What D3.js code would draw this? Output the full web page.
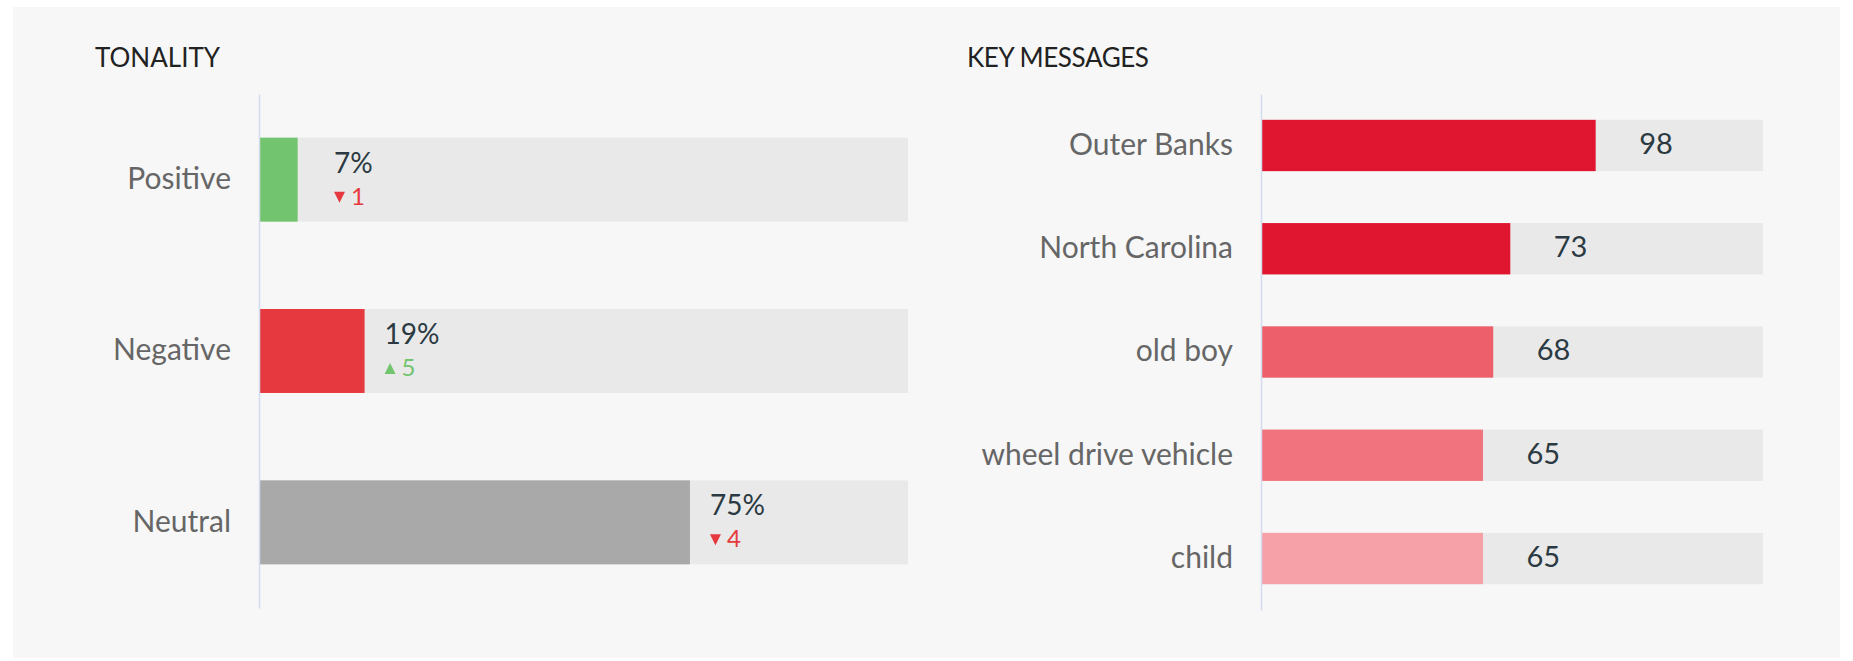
<!DOCTYPE html>
<html><head><meta charset="utf-8">
<script src="https://cdn.jsdelivr.net/npm/d3@7/dist/d3.min.js"></script>
<style>
body{margin:0;background:#fff;}
text{font-family:Lato, "Open Sans", sans-serif;}
</style>
</head><body>
<svg id="chart" width="1853" height="661"></svg>
<script>
// ---- data ----
const tonalityTitle = "TONALITY";
const tonalityCategories = ["Positive", "Negative", "Neutral"];
const tonalityValues = [6.7, 18.3, 74.7];
const tonalityLabels = ["7%", "19%", "75%"];
const tonalityChange = [-1, 5, -4];
const tonalityColors = ["#72c46e", "#e6393f", "#a8a9a8"];

const keyTitle = "KEY MESSAGES";
const keyCategories = ["Outer Banks", "North Carolina", "old boy", "wheel drive vehicle", "child"];
const keyValues = [98, 73, 68, 65, 65];
const keyColors = ["#e01631", "#e01631", "#ec5f6b", "#f1737e", "#f6a0a7"];

// ---- layout ----
const svg = d3.select("#chart");
svg.append("rect").attr("x", 13).attr("y", 7).attr("width", 1827).attr("height", 651).attr("fill", "#f7f7f7");

const plotTop = 94, plotBottom = 610;

function drawAxis(g, y, x0) {
  const ax = g.append("g").attr("transform", `translate(${x0},0)`)
    .call(d3.axisLeft(y).tickSize(0).tickSizeOuter(0).tickPadding(28));
  ax.select(".domain").attr("stroke", "#d3dbee").attr("stroke-width", 1.5);
  ax.selectAll("text").attr("font-size", 30).attr("fill", "#666")
    .attr("font-family", "Lato, sans-serif").attr("dy", "0.31em");
}

// ---- Tonality ----
{
  const g = svg.append("g");
  g.append("text").attr("x", 95).attr("y", 67).attr("font-size", 26).attr("fill", "#222").text(tonalityTitle);
  const x = d3.scaleLinear().domain([0, d3.max(tonalityValues) * 1.506]).range([259, 908]);
  const y = d3.scaleBand().domain(tonalityCategories).range([plotTop, 608]).paddingInner(0.51).paddingOuter(0.255);
  const data = tonalityCategories.map((c, i) => ({c, v: tonalityValues[i], l: tonalityLabels[i], d: tonalityChange[i], col: tonalityColors[i]}));
  g.selectAll(".bg").data(data).join("rect").attr("x", x(0)).attr("y", d => y(d.c))
    .attr("width", x.range()[1] - x(0)).attr("height", y.bandwidth()).attr("fill", "#e9e9e9");
  g.selectAll(".bar").data(data).join("rect").attr("x", x(0)).attr("y", d => y(d.c))
    .attr("width", d => x(d.v) - x(0)).attr("height", y.bandwidth()).attr("fill", d => d.col);
  const lx = d => Math.max(x(d.v), x(0) + 55) + 20;
  const cy = d => y(d.c) + y.bandwidth() / 2;
  g.selectAll(".val").data(data).join("text").attr("x", lx).attr("y", d => cy(d) - 7)
    .attr("font-size", 28).attr("fill", "#2b3a42").text(d => d.l);
  g.selectAll(".tri").data(data).join("path")
    .attr("d", d => {
      const x1 = lx(d), y1 = cy(d) + 12, w = 11, h = 11;
      return d.d < 0 ? `M${x1},${y1}L${x1 + w},${y1}L${x1 + w / 2},${y1 + h}Z`
                     : `M${x1},${y1 + h}L${x1 + w},${y1 + h}L${x1 + w / 2},${y1}Z`;
    })
    .attr("fill", d => d.d < 0 ? "#e6393f" : "#72c46e");
  g.selectAll(".chg").data(data).join("text").attr("x", d => lx(d) + 17).attr("y", d => cy(d) + 25)
    .attr("font-size", 24).attr("fill", d => d.d < 0 ? "#e6393f" : "#72c46e").text(d => Math.abs(d.d));
  drawAxis(g, y, 259);
}

// ---- Key messages ----
{
  const g = svg.append("g");
  g.append("text").attr("x", 967).attr("y", 67).attr("font-size", 26).attr("fill", "#222")
    .attr("letter-spacing", -0.4).text(keyTitle);
  const x = d3.scaleLinear().domain([0, d3.max(keyValues) * 1.5]).range([1261, 1763]);
  const y = d3.scaleBand().domain(keyCategories).range([plotTop, plotBottom]).paddingInner(0.503).paddingOuter(0.25);
  const data = keyCategories.map((c, i) => ({c, v: keyValues[i], col: keyColors[i]}));
  g.selectAll(".bg").data(data).join("rect").attr("x", x(0)).attr("y", d => y(d.c))
    .attr("width", x.range()[1] - x(0)).attr("height", y.bandwidth()).attr("fill", "#e9e9e9");
  g.selectAll(".bar").data(data).join("rect").attr("x", x(0)).attr("y", d => y(d.c))
    .attr("width", d => x(d.v) - x(0)).attr("height", y.bandwidth()).attr("fill", d => d.col);
  g.selectAll(".val").data(data).join("text").attr("x", d => x(d.v) + 43.5)
    .attr("y", d => y(d.c) + y.bandwidth() / 2 + 8.3)
    .attr("font-size", 29).attr("fill", "#2b3a42").text(d => d.v);
  drawAxis(g, y, 1261);
}
</script>
</body></html>
